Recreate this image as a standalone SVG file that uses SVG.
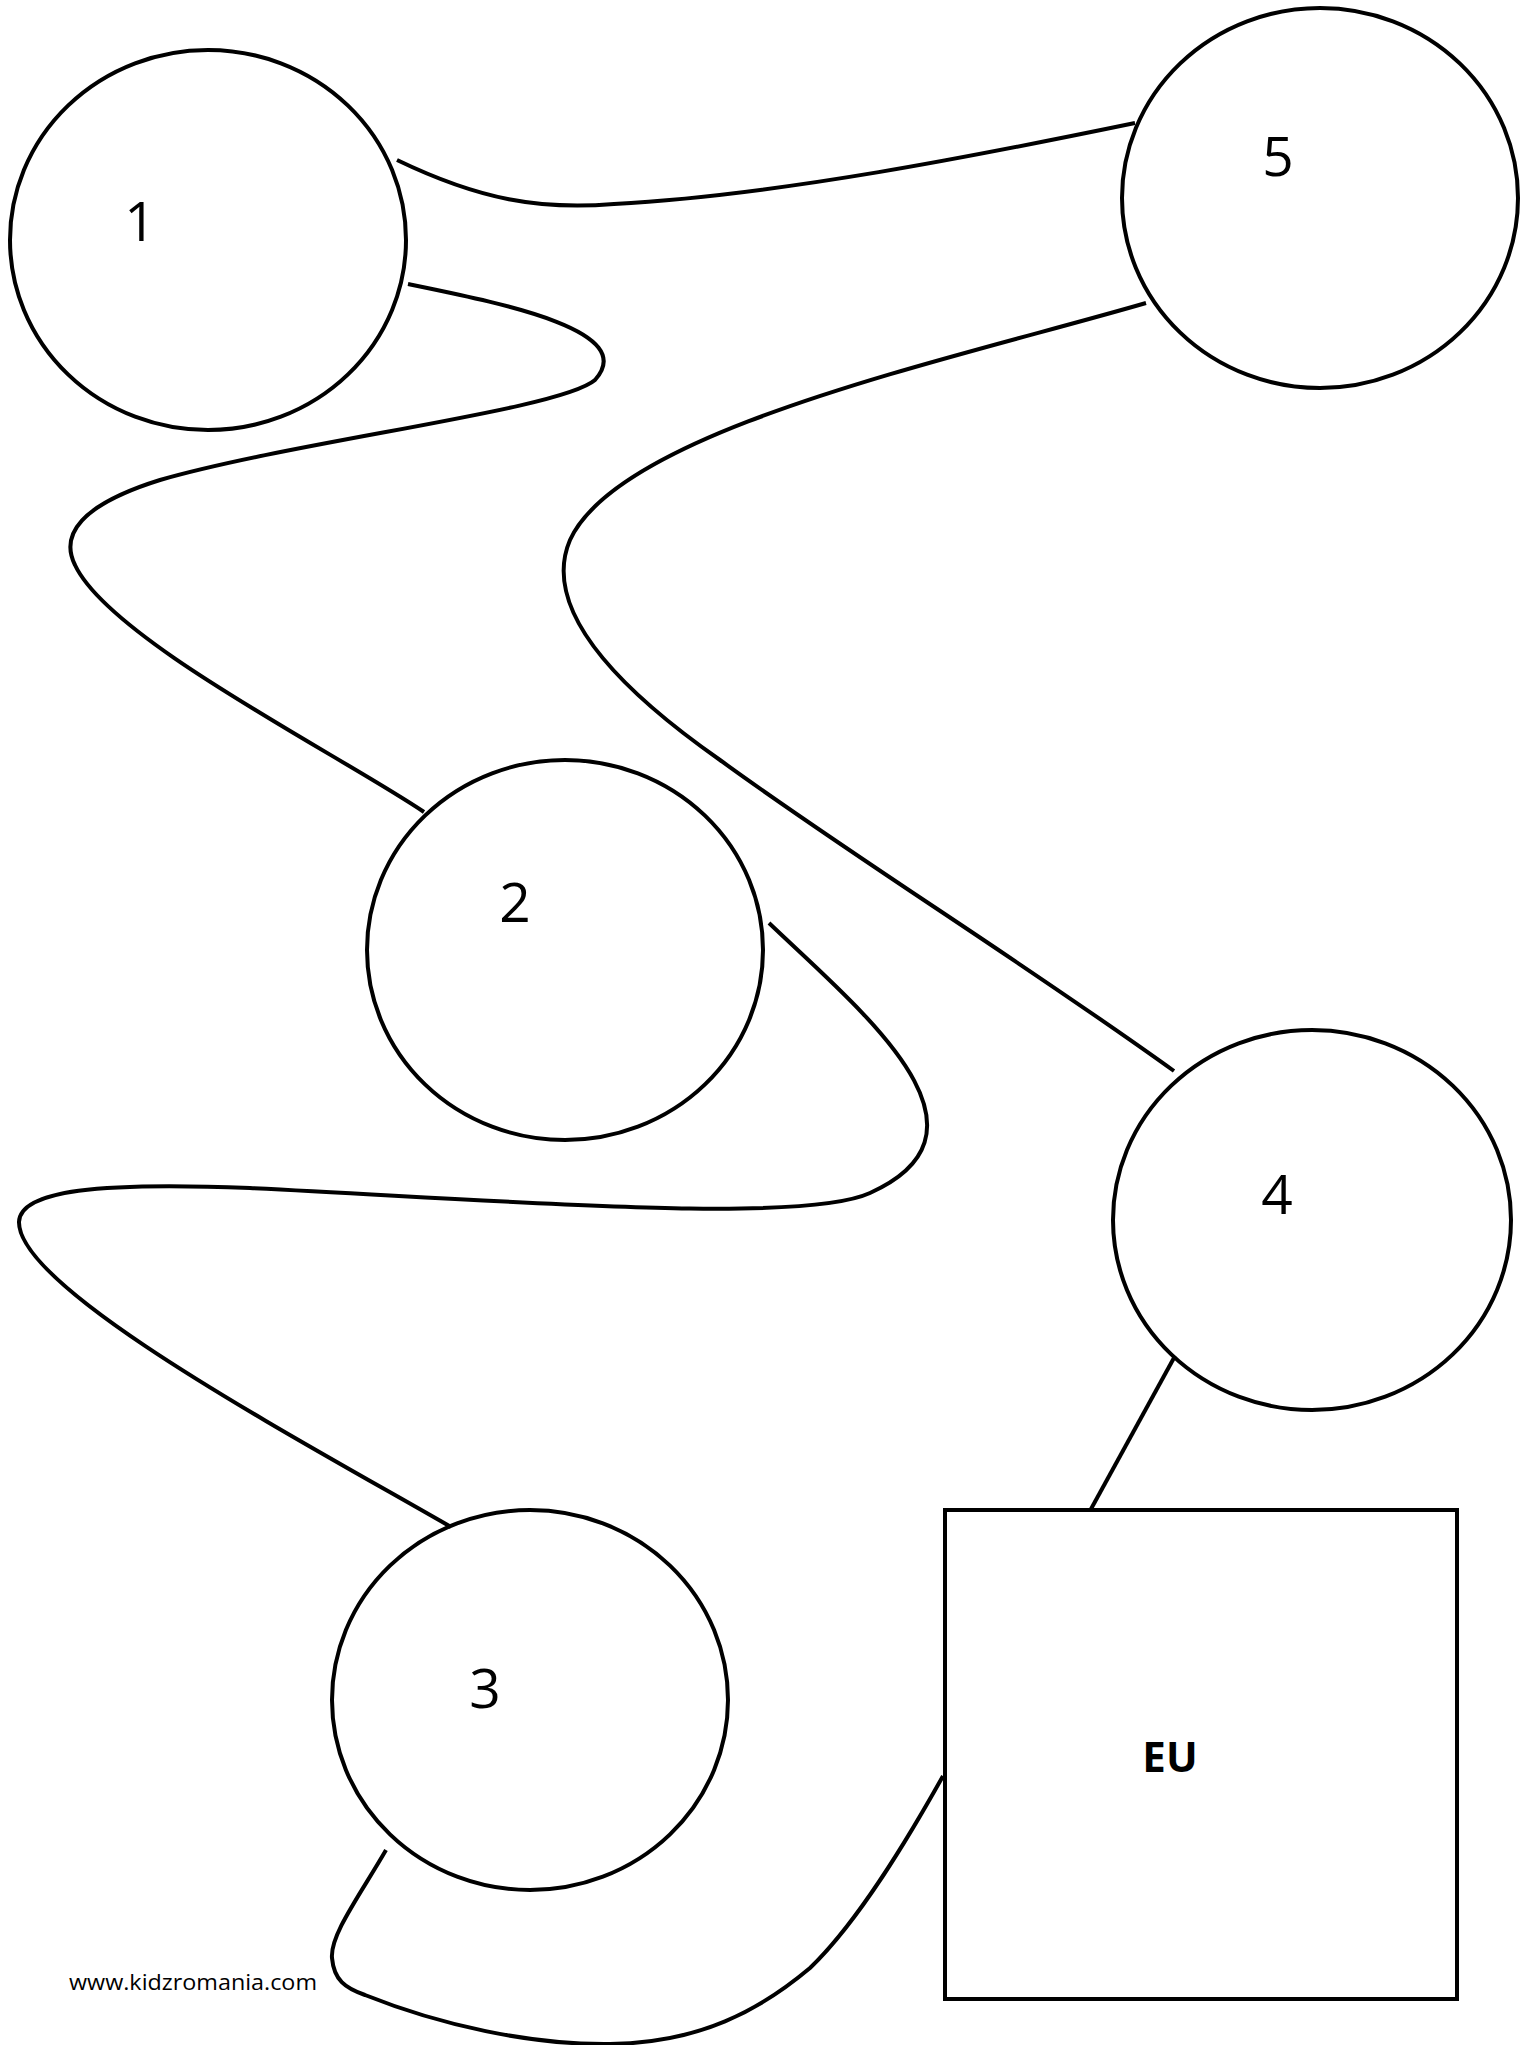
<svg xmlns="http://www.w3.org/2000/svg" width="1525" height="2045" viewBox="0 0 1525 2045">
<style>
.node{fill:#fff;stroke:#000;stroke-width:4}
.conn{fill:none;stroke:#000;stroke-width:4}
.lbl{font-family:"Open Sans","Noto Sans",sans-serif;font-size:55px;fill:#000;text-anchor:middle}
.eu{font-family:"Open Sans","Noto Sans",sans-serif;font-size:42px;font-weight:bold;fill:#000;text-anchor:middle}
.wm{font-family:"Open Sans","Noto Sans",sans-serif;font-size:22px;fill:#000}
</style>
<rect width="1525" height="2045" fill="#fff"/>
<g id="n1"><ellipse class="node" cx="208" cy="240" rx="198" ry="190"/><text class="lbl" x="140" y="241">1</text></g>
<g id="n5"><ellipse class="node" cx="1320" cy="198" rx="198" ry="190"/><text class="lbl" x="1278" y="176">5</text></g>
<g id="n2"><ellipse class="node" cx="565" cy="950" rx="198" ry="190"/><text class="lbl" x="515" y="922">2</text></g>
<g id="n4"><ellipse class="node" cx="1312" cy="1220" rx="199" ry="190"/><text class="lbl" x="1277" y="1214">4</text></g>
<g id="n3"><ellipse class="node" cx="530" cy="1700" rx="198" ry="190"/><text class="lbl" x="485" y="1708">3</text></g>
<g id="eu"><rect class="node" x="945" y="1510" width="512" height="489"/><text class="eu" x="1170" y="1772">EU</text></g>
<g id="connectors">
<path class="conn" d="M397 160 C480 200,540 210,614 204 C780 195,980 155,1135 123"/>
<path class="conn" d="M408 284 C500 303,640 330,595 380 C560 410,300 440,160 480 C80 505,60 535,75 565 C110 640,340 755,424 812"/>
<path class="conn" d="M1146 303 C950 360,620 430,570 540 C540 610,620 690,720 760 C850 855,1020 960,1174 1071"/>
<path class="conn" d="M769 923 C860 1010,1010 1130,870 1193 C800 1225,500 1200,250 1188 C100 1182,20 1190,19 1222 C18 1290,300 1440,451 1527"/>
<path class="conn" d="M1175 1356 L1091 1509"/>
<path class="conn" d="M386 1850 C360 1895,330 1935,332 1958 C334 1980,345 1988,365 1995 C440 2025,530 2045,610 2044 C700 2043,760 2010,810 1968 C860 1920,910 1835,943 1776"/>
</g>
<text class="wm" x="69" y="1990" textLength="248" lengthAdjust="spacingAndGlyphs">www.kidzromania.com</text>
</svg>
